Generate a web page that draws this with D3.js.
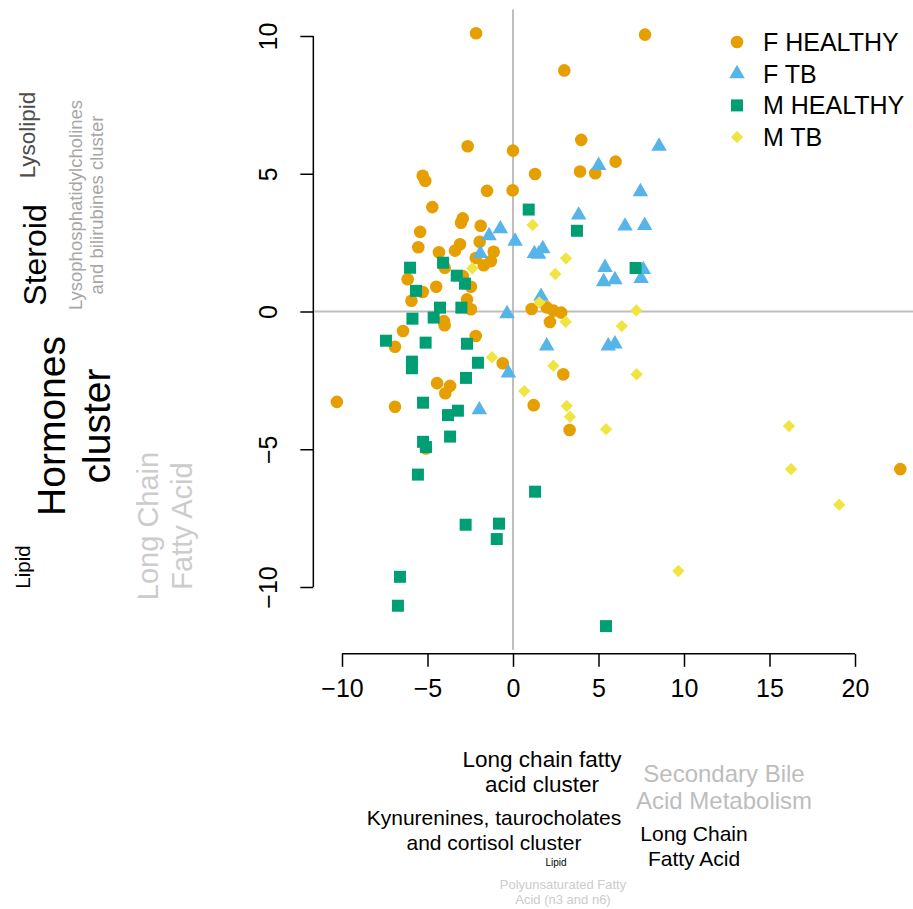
<!DOCTYPE html>
<html>
<head>
<meta charset="utf-8">
<script src="https://cdn.jsdelivr.net/npm/d3@7"></script>
<style>
  html, body { margin: 0; padding: 0; background: #fff; }
  svg { display: block; font-family: "Liberation Sans", Arial, Helvetica, sans-serif; }
</style>
</head>
<body>
<svg id="chart" width="913" height="909"></svg>
<script>
// Group names and colours
const groups = ["F HEALTHY", "F TB", "M HEALTHY", "M TB"];
const groupColors = ["#E69F00", "#56B4E9", "#009E73", "#F0E442"];
const groupShapes = ["circle", "triangle", "square", "diamond"];

// Scores per group: [component 1, component 2]
const fHealthy = [
  [-2.16, 10.1], [7.72, 10.05], [3.0, 8.75], [3.99, 6.23], [-2.65, 6.0], [0, 5.84],
  [6.0, 5.44], [1.29, 4.99], [3.92, 5.08], [4.81, 5.02], [-5.28, 4.93], [-5.13, 4.74],
  [-1.52, 4.38], [-0.02, 4.40], [-4.72, 3.79], [-2.94, 3.38], [-3.04, 3.22], [-1.89, 3.11],
  [-5.43, 2.89], [-5.54, 2.33], [-1.95, 2.53], [-3.1, 2.44], [-3.39, 2.21], [-4.33, 2.15],
  [-1.13, 2.17], [-2.18, 1.94], [-1.29, 1.83], [-1.71, 1.68], [-3.99, 1.59], [-6.16, 1.17],
  [-4.49, 0.90], [-2.46, 0.90], [-2.94, 1.29], [-5.28, 0.71], [-5.94, 0.39], [-2.69, 0.44],
  [-2.46, 0.08], [-4.04, -0.35], [-4.0, -0.5], [-2.18, -0.89], [-6.43, -0.71], [-6.9, -1.28],
  [-0.6, -1.88], [-4.44, -2.6], [-3.68, -2.7], [-3.96, -2.97], [-10.3, -3.28], [-6.9, -3.46],
  [-5.09, -4.97], [1.09, 0.09], [1.97, 0.15], [2.36, 0.03], [2.82, -0.04], [2.16, -0.38],
  [2.94, -2.28], [1.21, -3.4], [3.31, -4.3], [22.65, -5.72]
];
const fTb = [
  [8.54, 6.0], [5.01, 5.3], [7.45, 4.35], [3.84, 3.5], [6.55, 3.1], [7.70, 3.12],
  [-0.74, 3.0], [-1.4, 2.75], [0.12, 2.55], [-1.91, 2.1], [1.74, 2.28], [1.25, 2.1],
  [1.5, 2.08], [5.38, 1.6], [5.30, 1.08], [5.96, 1.15], [7.62, 1.52], [7.49, 1.2],
  [1.64, 0.55], [-0.35, -0.08], [1.97, -1.25], [5.57, -1.25], [5.96, -1.18], [-0.27, -2.23],
  [-1.97, -3.57]
];
const mHealthy = [
  [0.92, 3.7], [3.74, 2.93], [7.17, 1.58], [-6.02, 1.59], [-4.09, 1.77], [-3.29, 1.30],
  [-2.81, 1.01], [-5.67, 0.75], [-4.27, 0.14], [-3.02, 0.14], [-5.88, -0.26], [-4.64, -0.22],
  [-7.43, -1.06], [-5.11, -1.13], [-2.69, -1.17], [-5.91, -1.82], [-5.91, -2.06], [-2.05, -1.86],
  [-2.75, -2.41], [-5.26, -3.31], [-3.22, -3.6], [-3.8, -3.76], [-5.26, -4.73], [-5.09, -4.92],
  [-3.68, -4.54], [-5.56, -5.92], [1.29, -6.54], [-2.77, -7.74], [-0.82, -7.7], [-0.95, -8.26],
  [-6.61, -9.63], [-6.73, -10.68], [5.44, -11.42]
];
const mTb = [
  [1.15, 3.14], [3.1, 1.93], [2.47, 1.36], [-2.38, 1.57], [1.54, 0.33], [7.21, 0.04],
  [3.08, -0.37], [6.36, -0.53], [-1.23, -1.66], [2.36, -1.97], [7.23, -2.28], [0.66, -2.89],
  [3.14, -3.43], [3.33, -3.82], [5.44, -4.27], [16.14, -4.16], [16.26, -5.72], [19.08, -7.01],
  [9.67, -9.42]
];
const seriesData = [fHealthy, fTb, mHealthy, mTb];

// Axis ticks
const xTicks = [-10, -5, 0, 5, 10, 15, 20];
const yTicks = [-10, -5, 0, 5, 10];

// Loading annotations: text lines, colour, size
const leftNotes = [
  { lines: ["Lysolipid"], color: "#4d4d4d", size: 22.5, cx: 27, cy: 135 },
  { lines: ["Steroid"], color: "#000000", size: 32, cx: 35, cy: 255 },
  { lines: ["Lysophosphatidylcholines", "and bilirubines cluster"], color: "#a6a6a6", size: 18.5, cx: 86, cy: 205 },
  { lines: ["Hormones", "cluster"], color: "#000000", size: 39, cx: 74, cy: 426 },
  { lines: ["Long Chain", "Fatty Acid"], color: "#cccccc", size: 29, cx: 165, cy: 526 },
  { lines: ["Lipid"], color: "#000000", size: 20.5, cx: 22, cy: 567 }
];
const bottomNotes = [
  { lines: ["Long chain fatty", "acid cluster"], color: "#000000", size: 22.5, cx: 542, cy: 772 },
  { lines: ["Secondary Bile", "Acid Metabolism"], color: "#bdbdbd", size: 24, cx: 724, cy: 787 },
  { lines: ["Kynurenines, taurocholates", "and cortisol cluster"], color: "#000000", size: 21, cx: 494, cy: 830 },
  { lines: ["Long Chain", "Fatty Acid"], color: "#000000", size: 21, cx: 694, cy: 846 },
  { lines: ["Lipid"], color: "#000000", size: 10, cx: 556, cy: 862 },
  { lines: ["Polyunsaturated Fatty", "Acid (n3 and n6)"], color: "#cccccc", size: 13, cx: 563, cy: 892 }
];

const svg = d3.select("#chart");

const x = d3.scaleLinear().domain([-10, 20]).range([342, 855]);
const y = d3.scaleLinear().domain([-10, 10]).range([587, 36]);

// Plot region: data range padded by 4% on each side
const allPts = seriesData.flat();
const xe = d3.extent(allPts, d => d[0]);
const ye = d3.extent(allPts, d => d[1]);
const xPad = 0.04 * (xe[1] - xe[0]);
const yPad = 0.04 * (ye[1] - ye[0]);
const plotLeft = x(xe[0] - xPad), plotRight = x(xe[1] + xPad);
const plotTop = y(ye[1] + yPad), plotBottom = y(ye[0] - yPad);

// Reference lines through the origin
svg.append("line")
  .attr("x1", plotLeft).attr("x2", plotRight).attr("y1", y(0)).attr("y2", y(0))
  .attr("stroke", "#bebebe").attr("stroke-width", 2);
svg.append("line")
  .attr("x1", x(0)).attr("x2", x(0)).attr("y1", plotTop).attr("y2", plotBottom)
  .attr("stroke", "#bebebe").attr("stroke-width", 2);

// Axes
const fmt = d => d < 0 ? "\u2212" + Math.abs(d) : String(d);
const xAxis = d3.axisBottom(x).tickValues(xTicks).tickSize(13).tickPadding(12).tickFormat(fmt);
const gx = svg.append("g").attr("transform", `translate(0,${plotBottom + 4})`).call(xAxis);
gx.select(".domain").attr("d", `M${x(xTicks[0])},0H${x(xTicks[xTicks.length - 1])}`)
  .attr("stroke-width", 1.5);
gx.selectAll(".tick line").attr("stroke-width", 1.5);
gx.selectAll(".tick text").attr("font-size", 25).attr("fill", "#000")
  .attr("font-family", "Liberation Sans, Arial, sans-serif");

const yAxis = d3.axisLeft(y).tickValues(yTicks).tickSize(13).tickPadding(0).tickFormat(fmt);
const gy = svg.append("g").attr("transform", `translate(${plotLeft - 1},0)`).call(yAxis);
gy.select(".domain").attr("d", `M0,${y(yTicks[0])}V${y(yTicks[yTicks.length - 1])}`)
  .attr("stroke-width", 1.5);
gy.selectAll(".tick line").attr("stroke-width", 1.5);
gy.selectAll(".tick text")
  .attr("font-size", 25).attr("fill", "#000")
  .attr("font-family", "Liberation Sans, Arial, sans-serif")
  .attr("x", null).attr("dy", null)
  .attr("text-anchor", "middle").attr("dominant-baseline", "central")
  .attr("transform", "translate(-45,0) rotate(-90)");

// Marker path builders
function markerPath(shape, cx, cy) {
  if (shape === "circle") {
    const r = 6.3;
    return `M${cx - r},${cy}a${r},${r} 0 1,0 ${2 * r},0a${r},${r} 0 1,0 ${-2 * r},0Z`;
  }
  if (shape === "square") {
    const h = 6;
    return `M${cx - h},${cy - h}H${cx + h}V${cy + h}H${cx - h}Z`;
  }
  if (shape === "triangle") {
    const s = 15.5, hgt = s * Math.sqrt(3) / 2;
    return `M${cx},${cy - 2 * hgt / 3}L${cx + s / 2},${cy + hgt / 3}L${cx - s / 2},${cy + hgt / 3}Z`;
  }
  // diamond
  const d = 6.2;
  return `M${cx},${cy - d}L${cx + d},${cy}L${cx},${cy + d}L${cx - d},${cy}Z`;
}

// Points
const pts = svg.append("g");
seriesData.forEach((data, i) => {
  pts.selectAll(null).data(data).enter().append("path")
    .attr("d", d => markerPath(groupShapes[i], x(d[0]), y(d[1])))
    .attr("fill", groupColors[i]);
});

// Legend
const legend = svg.append("g").attr("transform", "translate(737,42)");
groups.forEach((g, i) => {
  const row = legend.append("g").attr("transform", `translate(0,${i * 31.7})`);
  row.append("path").attr("d", markerPath(groupShapes[i], 0, 0)).attr("fill", groupColors[i]);
  row.append("text").attr("x", 26).attr("y", 0).attr("dominant-baseline", "central")
    .attr("font-size", 25).attr("fill", "#000").text(g);
});

// Annotation text blocks
function noteBlock(note, rotated) {
  const lh = note.size * 1.15;
  const n = note.lines.length;
  const g = svg.append("g")
    .attr("transform", rotated
      ? `translate(${note.cx},${note.cy}) rotate(-90)`
      : `translate(${note.cx},${note.cy})`);
  note.lines.forEach((t, k) => {
    g.append("text")
      .attr("x", 0).attr("y", (k - (n - 1) / 2) * lh)
      .attr("text-anchor", "middle").attr("dominant-baseline", "central")
      .attr("font-size", note.size).attr("fill", note.color).text(t);
  });
}
leftNotes.forEach(n => noteBlock(n, true));
bottomNotes.forEach(n => noteBlock(n, false));
</script>
</body>
</html>
